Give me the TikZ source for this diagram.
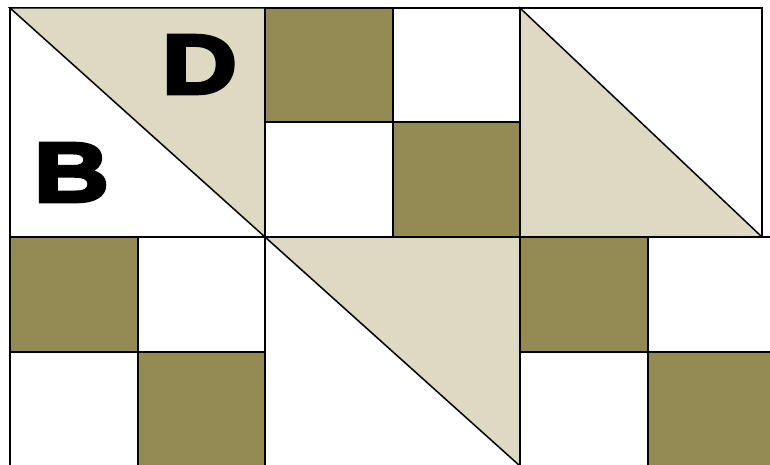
\documentclass[tikz,border=0pt]{standalone}
\usepackage{fontspec}
\newfontfamily\heavy{Liberation Sans}[BoldFeatures={FakeBold=4.5,FakeStretch=1.24}]
\definecolor{olive}{HTML}{948A54}
\definecolor{tan}{HTML}{DDD9C3}
\begin{document}
\begin{tikzpicture}[x=1pt,y=-1pt,
  edge/.style={draw=black,line width=1.5pt,line join=miter},
  dark/.style={edge,fill=olive},
  light/.style={edge,fill=white},
  tri/.style={edge,fill=tan},
  letter/.style={inner sep=0pt,font=\heavy\bfseries\fontsize{84}{84}\selectfont}]
\useasboundingbox (0,0) rectangle (770,465);
\fill[white] (0,0) rectangle (770,465);
% top-left block
\path[light] (10,8) rectangle (265,237);
\path[tri] (10,8) -- (265,8) -- (265,237) -- cycle;
\node[letter] (D) at (199.5,64.5) {D};
\node[letter] (B) at (71.5,172.5) {B};
% top-middle block
\path[dark] (265,8) rectangle (393,122);
\path[light] (393,8) rectangle (520,122);
\path[light] (265,122) rectangle (393,237);
\path[dark] (393,122) rectangle (520,237);
% top-right block
\path[light] (520,8) rectangle (762,237);
\path[tri] (520,8) -- (762,237) -- (520,237) -- cycle;
% bottom-left block
\path[dark] (10,237) rectangle (138,352);
\path[light] (138,237) rectangle (265,352);
\path[light] (10,352) rectangle (138,470);
\path[dark] (138,352) rectangle (265,470);
% bottom-middle block
\path[light] (265,237) rectangle (520,470);
\path[tri] (265,237) -- (520,237) -- (520,466) -- cycle;
% bottom-right block
\path[dark] (520,237) rectangle (648,352);
\path[light] (648,237) rectangle (775,352);
\path[light] (520,352) rectangle (648,470);
\path[dark] (648,352) rectangle (775,470);
\draw[edge] (762,237) -- (770,237);
\end{tikzpicture}
\end{document}
